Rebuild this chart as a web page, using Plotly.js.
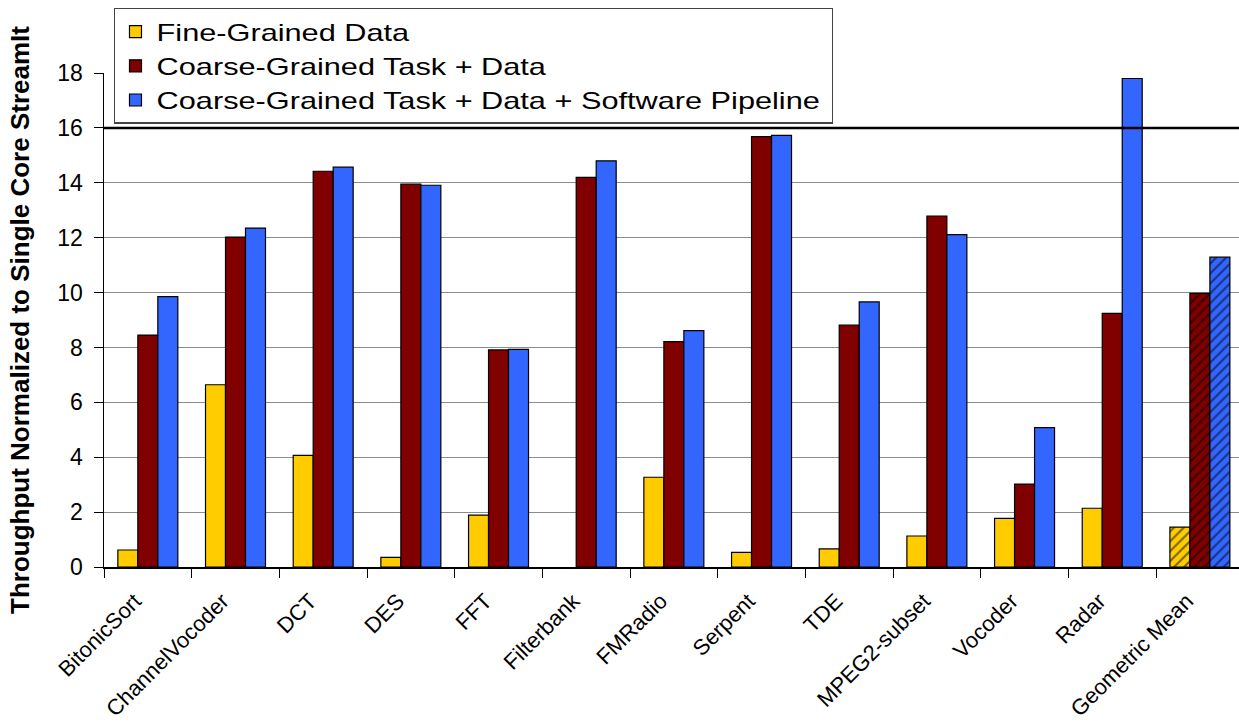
<!DOCTYPE html>
<html>
<head>
<meta charset="utf-8">
<script src="https://cdn.plot.ly/plotly-3.0.1.min.js"></script>
<style>
html,body{margin:0;padding:0;background:#fff;}
#chart{width:1239px;height:727px;}
.legendtext{transform:scaleX(1.28);transform-origin:36px 0;}
</style>
</head>
<body>
<div id="chart"></div>
<script>
const categories = ["BitonicSort","ChannelVocoder","DCT","DES","FFT","Filterbank","FMRadio","Serpent","TDE","MPEG2-subset","Vocoder","Radar","Geometric Mean"];
const seriesNames = ["Fine-Grained Data","Coarse-Grained Task + Data","Coarse-Grained Task + Data + Software Pipeline"];
const fineGrained = [0.62, 6.64, 4.07, 0.35, 1.89, null, 3.27, 0.53, 0.66, 1.13, 1.77, 2.14, 1.45];
const coarseGrained = [8.45, 12.02, 14.42, 13.95, 7.91, 14.2, 8.21, 15.68, 8.81, 12.79, 3.02, 9.24, 9.97];
const coarsePipeline = [9.85, 12.35, 14.57, 13.91, 7.93, 14.8, 8.61, 15.73, 9.66, 12.11, 5.08, 17.8, 11.29];
const yTicks = [0, 2, 4, 6, 8, 10, 12, 14, 16, 18];
const referenceLine = 16;

const colors = ["#FFCC00", "#800000", "#3366FF"];
const patternShapes = categories.map(c => c === "Geometric Mean" ? "/" : "");

function barTrace(name, values, color) {
  return {
    type: "bar",
    name: name,
    x: categories,
    y: values,
    marker: {
      color: color,
      line: {color: "#000", width: 1.2},
      pattern: {shape: patternShapes, fillmode: "overlay", fgcolor: "#000", size: 7, solidity: 0.3}
    },
    hoverinfo: "x+y"
  };
}

const data = [
  barTrace(seriesNames[0], fineGrained, colors[0]),
  barTrace(seriesNames[1], coarseGrained, colors[1]),
  barTrace(seriesNames[2], coarsePipeline, colors[2])
];

const layout = {
  width: 1239,
  height: 727,
  margin: {l: 104, r: 0, t: 73, b: 160},
  paper_bgcolor: "#fff",
  plot_bgcolor: "#fff",
  font: {family: "Liberation Sans, Arial, sans-serif", color: "#000"},
  barmode: "group",
  bargap: 0.316,
  bargroupgap: 0,
  showlegend: true,
  legend: {
    x: 0.0088, y: 1.1316, xanchor: "left", yanchor: "top",
    bgcolor: "#fff", bordercolor: "#444", borderwidth: 1.5,
    font: {size: 24, family: "Liberation Sans, Arial, sans-serif", color: "#000"},
    tracegroupgap: 0
  },
  xaxis: {
    type: "category",
    range: [-0.5, 12.446],
    tickangle: -45,
    tickfont: {size: 22},
    ticks: "outside",
    tickson: "boundaries",
    ticklen: 9,
    tickcolor: "#000",
    ticklabelshift: -13,
    ticklabelstandoff: 11,
    showline: true,
    linecolor: "#000",
    linewidth: 1.5,
    showgrid: false,
    zeroline: false
  },
  yaxis: {
    range: [0, 18],
    tickvals: yTicks,
    ticktext: yTicks.map(String),
    tickfont: {size: 23},
    ticks: "outside",
    ticklen: 9,
    tickcolor: "#000",
    ticklabelstandoff: 6,
    showline: true,
    linecolor: "#000",
    linewidth: 1.5,
    showgrid: true,
    gridcolor: "#8c8c8c",
    gridwidth: 1,
    zeroline: false,
    title: {text: "Throughput Normalized to Single Core StreamIt", font: {size: 26, family: "Liberation Sans, Arial, sans-serif", weight: "bold"}, standoff: 20}
  },
  shapes: [
    {type: "line", xref: "paper", yref: "y", x0: 0, x1: 1, y0: referenceLine, y1: referenceLine, line: {color: "#000", width: 2.5}}
  ]
};

Plotly.newPlot("chart", data, layout, {displayModeBar: false, staticPlot: true}).then(function (gd) {
  // widen the legend box to fit the horizontally stretched legend text
  const leg = gd.querySelector(".legend");
  if (!leg) return;
  const bg = leg.querySelector("rect.bg");
  if (!bg) return;
  const bgBox = bg.getBoundingClientRect();
  let maxRight = 0;
  leg.querySelectorAll(".legendtext").forEach(function (t) {
    maxRight = Math.max(maxRight, t.getBoundingClientRect().right);
  });
  const newW = Math.ceil(maxRight - bgBox.left + 12);
  if (newW > bgBox.width) {
    bg.setAttribute("width", newW);
    const sb = leg.querySelector(".scrollbox");
    const cp = sb && sb.getAttribute("clip-path");
    const m = cp && cp.match(/#([^)'"]+)/);
    if (m) {
      const clip = document.getElementById(m[1]);
      const r = clip && clip.querySelector("rect");
      if (r) r.setAttribute("width", newW + 20);
    }
  }
});
</script>
</body>
</html>
